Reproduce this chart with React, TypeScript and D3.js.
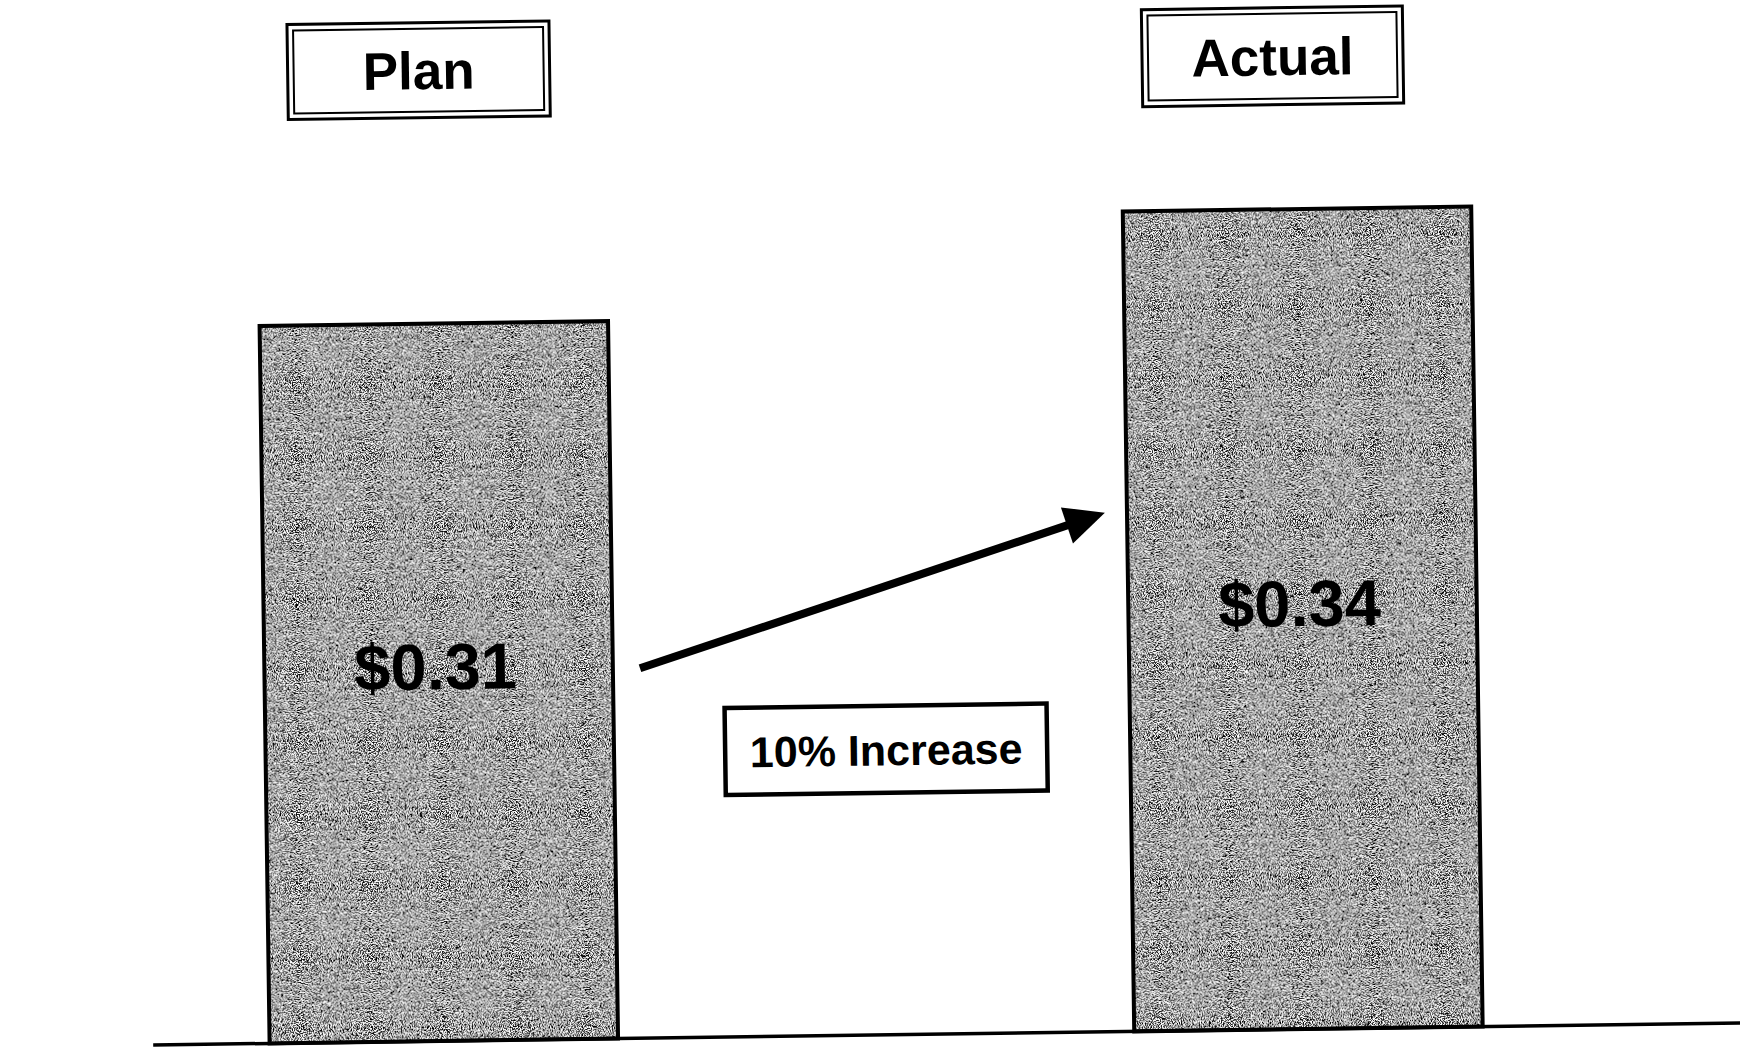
import React from "react";
import * as d3 from "d3";

const categories = ["Plan", "Actual"];
const values = [0.31, 0.34];
const valueLabels = ["$0.31", "$0.34"];
const changeLabel = "10% Increase";
const yDomain = [0.1, 0.4];

const W = 1740;
const H = 1048;
const FONT = "'Liberation Sans', Arial, Helvetica, sans-serif";

function App() {
  const x = d3
    .scaleBand<string>()
    .domain(categories)
    .range([3, 1735])
    .paddingInner(0.597)
    .paddingOuter(0.3);
  const y = d3.scaleLinear().domain(yDomain).range([1035, 10]);
  const bw = x.bandwidth();

  // title box centers (layout)
  const titleBoxes = [
    { cx: 425, cy: 64, w: 262, h: 95 },
    { cx: 1279, cy: 62, w: 261, h: 97 },
  ];

  // arrow from plan to actual
  const a0 = [638, 665];
  const a1 = [1105, 516];
  const dx = a1[0] - a0[0];
  const dy = a1[1] - a0[1];
  const len = Math.hypot(dx, dy);
  const ux = dx / len;
  const uy = dy / len;
  const headL = 40;
  const headW = 19;
  const bx = a1[0] - ux * headL;
  const by = a1[1] - uy * headL;
  const head = d3.path();
  head.moveTo(a1[0], a1[1]);
  head.lineTo(bx - uy * headW, by + ux * headW);
  head.lineTo(bx + uy * headW, by - ux * headW);
  head.closePath();

  const box = { x: 722, y: 706, w: 322, h: 87 };

  return (
    <svg
      width={W}
      height={H}
      style={{ position: "absolute", left: 0, top: 0, background: "#fff" }}
    >
      <defs>
        <filter id="grain" x="0" y="0" width="100%" height="100%">
          <feTurbulence
            type="fractalNoise"
            baseFrequency="0.9"
            numOctaves="2"
            seed="7"
            result="n"
          />
          <feColorMatrix
            in="n"
            type="matrix"
            values="1 0 0 0 0  1 0 0 0 0  1 0 0 0 0  0 0 0 0 1"
            result="g"
          />
          <feComponentTransfer in="g" result="c">
            <feFuncR type="linear" slope="5.5" intercept="-2.45" />
            <feFuncG type="linear" slope="5.5" intercept="-2.45" />
            <feFuncB type="linear" slope="5.5" intercept="-2.45" />
          </feComponentTransfer>
          <feComposite in="c" in2="SourceGraphic" operator="in" />
        </filter>
      </defs>
      <rect width={W} height={H} fill="#fff" />
      <g transform="rotate(-0.8 870 524)">
        {categories.map((c, i) => {
          const x0 = x(c)!;
          const yt = y(values[i]);
          const yb = y(yDomain[0]);
          return (
            <g key={c}>
              <rect
                x={x0}
                y={yt}
                width={bw}
                height={yb - yt}
                fill="#808080"
                filter="url(#grain)"
              />
              <rect
                x={x0}
                y={yt}
                width={bw}
                height={yb - yt}
                fill="none"
                stroke="#000"
                strokeWidth={4}
              />
              <text
                x={x0 + bw / 2 - 3}
                y={(yt + yb) / 2 + 7}
                textAnchor="middle"
                fontFamily={FONT}
                fontWeight="bold"
                fontSize={65}
                fill="#000"
              >
                {valueLabels[i]}
              </text>
            </g>
          );
        })}

        {categories.map((c, i) => {
          const b = titleBoxes[i];
          return (
            <g key={"t" + c}>
              <rect
                x={b.cx - b.w / 2}
                y={b.cy - b.h / 2}
                width={b.w}
                height={b.h}
                fill="#fff"
                stroke="#000"
                strokeWidth={3}
              />
              <rect
                x={b.cx - b.w / 2 + 6}
                y={b.cy - b.h / 2 + 6}
                width={b.w - 12}
                height={b.h - 12}
                fill="none"
                stroke="#000"
                strokeWidth={2}
              />
              <text
                x={b.cx}
                y={b.cy + 19}
                textAnchor="middle"
                fontFamily={FONT}
                fontWeight="bold"
                fontSize={53}
                fill="#000"
              >
                {c}
              </text>
            </g>
          );
        })}

        <line
          x1={a0[0]}
          y1={a0[1]}
          x2={bx + ux * 4}
          y2={by + uy * 4}
          stroke="#000"
          strokeWidth={8}
        />
        <path d={head.toString()} fill="#000" />

        <rect
          x={box.x}
          y={box.y}
          width={box.w}
          height={box.h}
          fill="#fff"
          stroke="#000"
          strokeWidth={4.5}
        />
        <text
          x={box.x + box.w / 2}
          y={box.y + box.h / 2 + 16}
          textAnchor="middle"
          fontFamily={FONT}
          fontWeight="bold"
          fontSize={43}
          fill="#000"
        >
          {changeLabel}
        </text>

        <line
          x1={146}
          y1={y(yDomain[0])}
          x2={1770}
          y2={y(yDomain[0])}
          stroke="#000"
          strokeWidth={3.5}
        />
      </g>
    </svg>
  );
}

export default App;
